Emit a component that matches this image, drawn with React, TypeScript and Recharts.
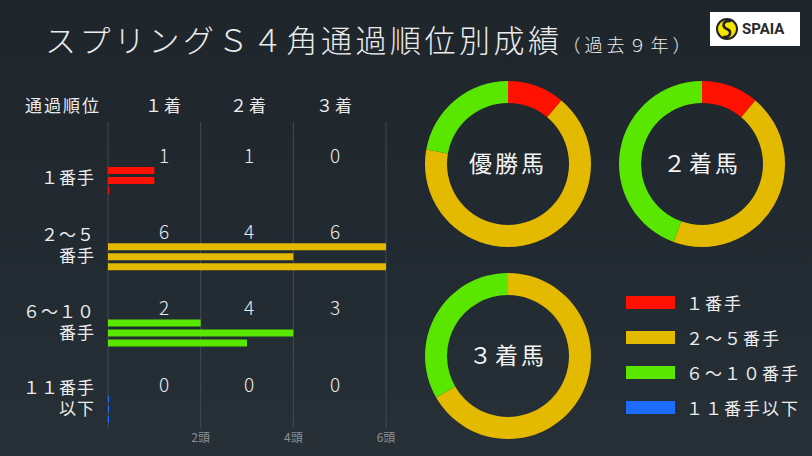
import React from "react";
import { BarChart, Bar, Cell, XAxis, YAxis, CartesianGrid, PieChart, Pie } from "recharts";

// 通過順位 (4角) categories
const positions = ["１番手", "２～５番手", "６～１０番手", "１１番手以下"];
const positionLines = [["１番手"], ["２～５", "番手"], ["６～１０", "番手"], ["１１番手", "以下"]];
const positionColors = ["#ff1100", "#e4ba00", "#59e600", "#1c6cff"];

// counts over the last 9 years
const firstPlace = [1, 6, 2, 0];
const secondPlace = [1, 4, 4, 0];
const thirdPlace = [0, 6, 3, 0];

const finishLabels = ["１着", "２着", "３着"];
const donutTitles = ["優勝馬", "２着馬", "３着馬"];
const xTicks = [0, 2, 4, 6];

const FONT = '"Noto Sans CJK JP", "Noto Sans", sans-serif';
const TEXT = "#ececec";

const barData = positions.map((p, i) => ({
  name: p,
  first: firstPlace[i],
  second: secondPlace[i],
  third: thirdPlace[i],
}));

const pieData = (vals: number[]) =>
  positions.map((p, i) => ({ name: p, value: vals[i], color: positionColors[i] }));

const numberColumns = [164, 249, 335];

function PositionTick(props: any) {
  const { y, index } = props;
  const lines = positionLines[index];
  const counts = [firstPlace[index], secondPlace[index], thirdPlace[index]];
  const startY = lines.length === 1 ? y - 2 : y - 21;
  return (
    <g fontFamily={FONT}>
      <text x={95} y={startY} dy="0.35em" textAnchor="end" fill={TEXT} fontSize={17} letterSpacing={1}>
        {lines.map((l: string, k: number) => (
          <tspan key={k} x={95} dy={k === 0 ? "0.35em" : 21}>
            {l}
          </tspan>
        ))}
      </text>
      {counts.map((c, k) => (
        <text key={"c" + k} x={numberColumns[k]} y={y - 24} dy="0.35em" textAnchor="middle" fill={TEXT} fontSize={19} fontWeight={300}>
          {c}
        </text>
      ))}
    </g>
  );
}

function Logo() {
  return (
    <div style={{ position: "absolute", left: 710, top: 12, width: 90, height: 34, background: "#fff" }}>
      <svg width={90} height={34}>
        <circle cx={17} cy={17} r={10} fill="#f5e400" stroke="#222" strokeWidth={2} />
        <path d="M21 9 C12 8 12 15 17 17 C22 19 21 26 13 25" fill="none" stroke="#222" strokeWidth={2.6} />
        <text x={32} y={22} fontFamily="Roboto, sans-serif" fontWeight={700} fontSize={15} fill="#2a2a2a">
          SPAIA
        </text>
      </svg>
    </div>
  );
}

export default function App() {
  const pieCenters = [
    { cx: 98, cy: 104 },
    { cx: 292, cy: 104 },
    { cx: 98, cy: 296 },
  ];
  const pieValues = [firstPlace, secondPlace, thirdPlace];

  return (
    <div
      style={{
        position: "absolute",
        left: 0,
        top: 0,
        width: 812,
        height: 456,
        overflow: "hidden",
        background: "linear-gradient(180deg, #1e252b 0%, #232b32 60%, #273037 100%)",
        fontFamily: FONT,
        color: TEXT,
      }}
    >
      <div style={{ position: "absolute", left: 45, top: 23, whiteSpace: "nowrap", lineHeight: 1 }}>
        <span style={{ fontSize: 31, letterSpacing: 3.5, fontWeight: 300 }}>スプリングＳ４角通過順位別成績</span>
        <span style={{ fontSize: 18, letterSpacing: 4, fontWeight: 300 }}>（過去９年）</span>
      </div>
      <Logo />

      <div style={{ position: "absolute", left: 25, top: 96, fontSize: 17, letterSpacing: 2, lineHeight: 1 }}>
        通過順位
      </div>
      {finishLabels.map((f, i) => (
        <div
          key={f}
          style={{
            position: "absolute",
            left: numberColumns[i] - 20,
            width: 40,
            textAlign: "center",
            top: 96,
            fontSize: 17,
            letterSpacing: 2,
            lineHeight: 1,
          }}
        >
          {f}
        </div>
      ))}

      <div style={{ position: "absolute", left: 0, top: 0 }}>
        <BarChart
          width={400}
          height={456}
          data={barData}
          layout="vertical"
          barSize={7}
          barGap={3}
          margin={{ top: 122, right: 14, bottom: 8, left: 8 }}
        >
          <CartesianGrid horizontal={false} stroke="#434b53" />
          <XAxis
            type="number"
            domain={[0, 6]}
            ticks={xTicks}
            height={20}
            axisLine={false}
            tickLine={false}
            tickSize={0}
            tickMargin={5}
            tick={{ fill: "#8a9197", fontSize: 12, fontFamily: FONT }}
            tickFormatter={(v: number) => (v === 0 ? "" : `${v}頭`)}
          />
          <YAxis
            type="category"
            dataKey="name"
            width={100}
            axisLine={false}
            tickLine={false}
            padding={{ top: 20, bottom: -19 }}
            tick={<PositionTick />}
            interval={0}
          />
          {["first", "second", "third"].map((k) => (
            <Bar key={k} dataKey={k} minPointSize={1} isAnimationActive={false}>
              {barData.map((d, i) => (
                <Cell key={d.name} fill={positionColors[i]} />
              ))}
            </Bar>
          ))}
        </BarChart>
      </div>

      <div style={{ position: "absolute", left: 410, top: 60 }}>
        <PieChart width={402} height={396} margin={{ top: 0, right: 0, bottom: 0, left: 0 }}>
          {pieValues.map((vals, i) => (
            <Pie
              key={i}
              data={pieData(vals)}
              dataKey="value"
              cx={pieCenters[i].cx}
              cy={pieCenters[i].cy}
              innerRadius={61}
              outerRadius={83}
              startAngle={90}
              endAngle={-270}
              stroke="none"
              isAnimationActive={false}
            >
              {pieData(vals).map((d) => (
                <Cell key={d.name} fill={d.color} />
              ))}
            </Pie>
          ))}
        </PieChart>
        {donutTitles.map((t, i) => (
          <div
            key={t}
            style={{
              position: "absolute",
              left: pieCenters[i].cx - 60,
              top: pieCenters[i].cy - 13,
              width: 120,
              textAlign: "center",
              fontSize: 23,
              letterSpacing: 3,
              lineHeight: 1,
              color: "#f4f4f4",
            }}
          >
            {t}
          </div>
        ))}
      </div>

      {positions.map((p, i) => (
        <div key={p} style={{ position: "absolute", left: 626, top: 295 + i * 35, height: 14, display: "flex", alignItems: "center" }}>
          <div style={{ width: 49, height: 13, background: positionColors[i] }} />
          <div style={{ marginLeft: 11, fontSize: 17, letterSpacing: 2, whiteSpace: "nowrap", lineHeight: 1 }}>{p}</div>
        </div>
      ))}
    </div>
  );
}
